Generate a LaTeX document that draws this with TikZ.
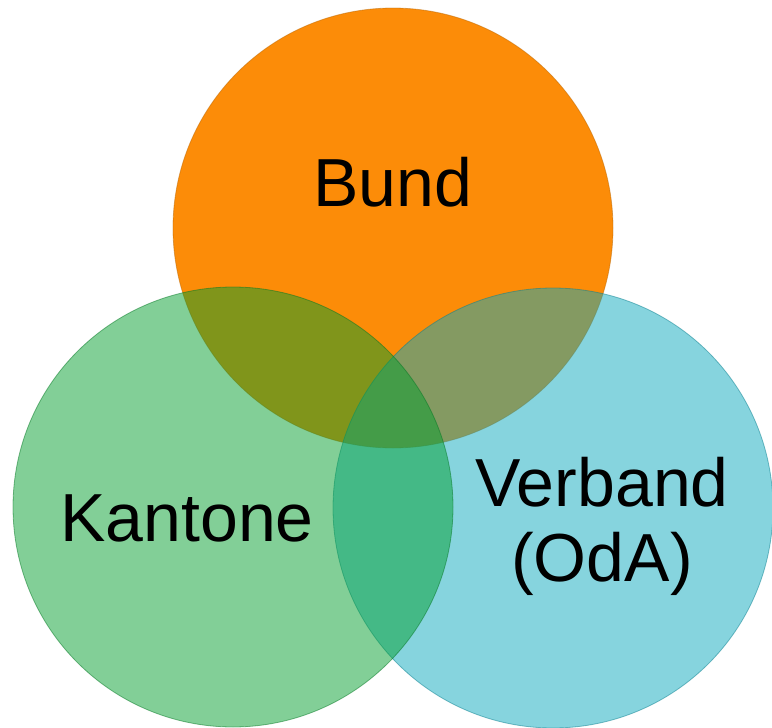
\documentclass[tikz,border=0pt]{standalone}
\usepackage{fontspec}
\setmainfont{Liberation Sans}
\usepackage{tkz-euclide}
\definecolor{bundorange}{RGB}{252,140,8}
\definecolor{kantongreen}{RGB}{5,159,47}
\definecolor{verbandblue}{RGB}{13,169,189}
\newcommand{\VennDisk}[3]{\filldraw[fill=#1,draw=#1!75!black,line width=0.8pt,fill opacity=#3,draw opacity=0.5] (#2) circle (220pt);}
\tikzset{venntext/.style={align=center,font=\fontsize{68}{75}\selectfont,inner sep=0pt}}

\begin{document}
\begin{tikzpicture}[x=1pt,y=1pt]
\useasboundingbox (0,0) rectangle (772,-728);
\tkzDefPoints{393/-228/B,233/-507/K,553/-508/V}

\VennDisk{bundorange}{B}{1}
\VennDisk{verbandblue}{V}{0.5}
\VennDisk{kantongreen}{K}{0.5}

\node[venntext] (bund) at (393,-182) {Bund};
\node[venntext] (kantone) at (187,-518) {Kantone};
\node[venntext] (verband) at (602,-526) {Verband\\(OdA)};
\end{tikzpicture}
\end{document}
